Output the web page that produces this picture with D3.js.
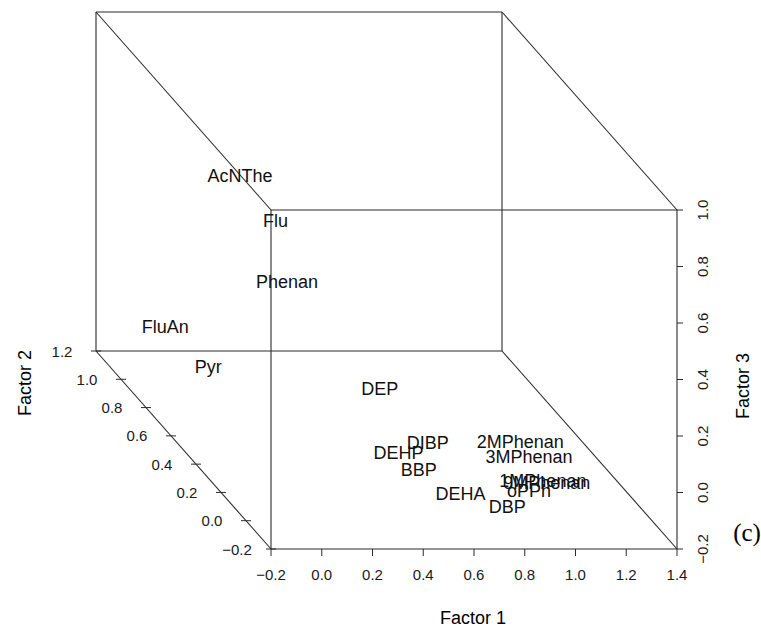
<!DOCTYPE html>
<html>
<head>
<meta charset="utf-8">
<script src="https://cdn.jsdelivr.net/npm/d3@7"></script>
<style>
  body { margin: 0; background: #fff; }
  svg { font-family: "Liberation Sans", Arial, sans-serif; }
</style>
</head>
<body>
<div id="chart"></div>
<script>
// loadings (Factor 1, Factor 2, Factor 3)
const labels = ["AcNThe", "Flu", "Phenan", "FluAn", "Pyr", "DEP", "DIBP", "DEHP", "BBP",
                "2MPhenan", "3MPhenan", "1MPhenan", "9MPhenan", "oPPh", "DEHA", "DBP"];
const factor1 = [0.22, 0.36, 0.38, -0.05, 0.07, 0.50, 0.59, 0.50, 0.53,
                 0.93, 0.94, 0.97, 0.985, 0.94, 0.67, 0.83];
const factor2 = [0.90, 0.90, 0.85, 0.95, 0.85, 0.35, 0.15, 0.20, 0.10,
                 0.10, 0.05, 0.00, 0.00, 0.05, 0.05, 0.00];
const factor3 = [0.57, 0.41, 0.22, 0.01, -0.08, 0.09, 0.00, -0.06, -0.07,
                 0.03, 0.00, -0.06, -0.065, -0.12, -0.13, -0.15];

const xTicks = [-0.2, 0.0, 0.2, 0.4, 0.6, 0.8, 1.0, 1.2, 1.4];
const yTicks = [-0.2, 0.0, 0.2, 0.4, 0.6, 0.8, 1.0, 1.2];
const zTicks = [-0.2, 0.0, 0.2, 0.4, 0.6, 0.8, 1.0];

const width = 761, height = 628;
const svg = d3.select("#chart").append("svg")
    .attr("width", width)
    .attr("height", height);

// front face: factor 1 across, factor 3 up; factor 2 goes back to the upper left
const x = d3.scaleLinear().domain([-0.2, 1.4]).range([271, 677]);
const z = d3.scaleLinear().domain([-0.2, 1.0]).range([549, 210]);
const depth = d3.scaleLinear().domain([-0.2, 1.2]).range([0, 1]);
const backDx = -175, backDy = -198;

function project(a, b, c) {
    let t = depth(b);
    return [x(a) + t * backDx, z(c) + t * backDy];
}

function fmt(v) {
    return v.toFixed(1).replace("-", "\u2212");
}

// box
const x0 = -0.2, x1 = 1.4, y0 = -0.2, y1 = 1.2, z0 = -0.2, z1 = 1.0;
const edges = [
    [[x0, y0, z0], [x1, y0, z0]],
    [[x0, y0, z0], [x0, y0, z1]],
    [[x0, y0, z1], [x1, y0, z1]],
    [[x1, y0, z0], [x1, y0, z1]],
    [[x0, y1, z0], [x1, y1, z0]],
    [[x0, y1, z0], [x0, y1, z1]],
    [[x0, y1, z1], [x1, y1, z1]],
    [[x1, y1, z0], [x1, y1, z1]],
    [[x0, y0, z0], [x0, y1, z0]],
    [[x1, y0, z0], [x1, y1, z0]],
    [[x0, y0, z1], [x0, y1, z1]],
    [[x1, y0, z1], [x1, y1, z1]]
];
const box = svg.append("g").attr("class", "box");
box.selectAll("line")
    .data(edges)
    .enter().append("line")
    .attr("x1", d => project(...d[0])[0])
    .attr("y1", d => project(...d[0])[1])
    .attr("x2", d => project(...d[1])[0])
    .attr("y2", d => project(...d[1])[1])
    .attr("stroke", "#2b2b2b")
    .attr("stroke-width", 1.1);

// factor 1 axis
const xAxis = svg.append("g").attr("class", "x-axis");
xAxis.selectAll("line")
    .data(xTicks)
    .enter().append("line")
    .attr("x1", d => x(d)).attr("x2", d => x(d))
    .attr("y1", z(z0)).attr("y2", z(z0) + 7)
    .attr("stroke", "#2b2b2b");
xAxis.selectAll("text")
    .data(xTicks)
    .enter().append("text")
    .attr("x", d => x(d))
    .attr("y", z(z0) + 31)
    .attr("text-anchor", "middle")
    .style("font-size", "15px")
    .attr("fill", "#1a1a1a")
    .text(fmt);

// factor 2 axis
const yAxis = svg.append("g").attr("class", "y-axis");
yAxis.selectAll("line")
    .data(yTicks)
    .enter().append("line")
    .attr("x1", d => project(x0, d, z0)[0] - 5)
    .attr("x2", d => project(x0, d, z0)[0] + 5)
    .attr("y1", d => project(x0, d, z0)[1])
    .attr("y2", d => project(x0, d, z0)[1])
    .attr("stroke", "#2b2b2b");
yAxis.selectAll("text")
    .data(yTicks)
    .enter().append("text")
    .attr("x", d => project(x0, d, z0)[0] - 34)
    .attr("y", d => project(x0, d, z0)[1])
    .attr("text-anchor", "middle")
    .attr("dominant-baseline", "central")
    .style("font-size", "15px")
    .attr("fill", "#1a1a1a")
    .text(fmt);

// factor 3 axis
const zAxis = svg.append("g").attr("class", "z-axis");
zAxis.selectAll("line")
    .data(zTicks)
    .enter().append("line")
    .attr("x1", x(x1)).attr("x2", x(x1) + 6)
    .attr("y1", d => z(d)).attr("y2", d => z(d))
    .attr("stroke", "#2b2b2b");
zAxis.selectAll("text")
    .data(zTicks)
    .enter().append("text")
    .attr("transform", d => `translate(${x(x1) + 25},${z(d)}) rotate(-90)`)
    .attr("text-anchor", "middle")
    .attr("dominant-baseline", "central")
    .style("font-size", "15px")
    .attr("fill", "#1a1a1a")
    .text(fmt);

// axis titles
svg.append("text")
    .attr("x", 473).attr("y", 624)
    .attr("text-anchor", "middle")
    .style("font-size", "18px")
    .text("Factor 1");
svg.append("text")
    .attr("transform", "translate(25,383) rotate(-90)")
    .attr("text-anchor", "middle")
    .attr("dominant-baseline", "central")
    .style("font-size", "18px")
    .text("Factor 2");
svg.append("text")
    .attr("transform", "translate(743,386) rotate(-90)")
    .attr("text-anchor", "middle")
    .attr("dominant-baseline", "central")
    .style("font-size", "18px")
    .text("Factor 3");

// compound labels
const points = labels.map((name, i) => ({name, a: factor1[i], b: factor2[i], c: factor3[i]}));
svg.append("g").attr("class", "labels")
    .selectAll("text")
    .data(points)
    .enter().append("text")
    .attr("x", d => project(d.a, d.b, d.c)[0])
    .attr("y", d => project(d.a, d.b, d.c)[1])
    .attr("text-anchor", "middle")
    .attr("dominant-baseline", "central")
    .style("font-size", "18px")
    .attr("fill", "#111")
    .text(d => d.name);

// panel letter
svg.append("text")
    .attr("x", 747).attr("y", 541)
    .attr("text-anchor", "middle")
    .style("font-family", "'Liberation Serif', 'Times New Roman', serif")
    .style("font-size", "25px")
    .text("(c)");
</script>
</body>
</html>
